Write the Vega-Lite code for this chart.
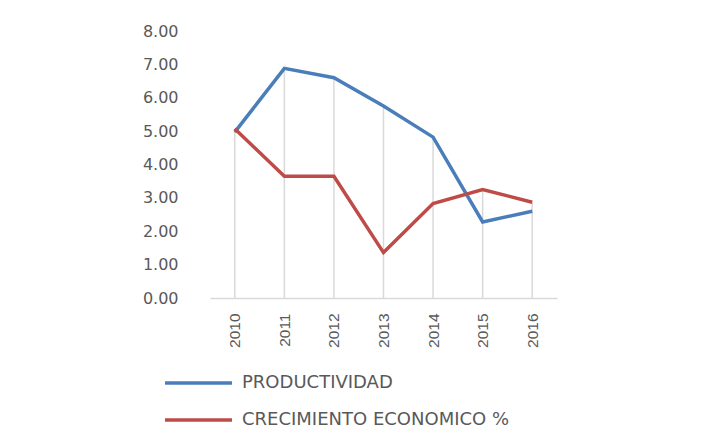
{
  "$schema": "https://vega.github.io/schema/vega-lite/v6.json",
  "autosize": {"type": "none"},
  "width": 347,
  "height": 267,
  "padding": {"left": 210, "top": 31, "right": 158, "bottom": 138},
  "background": "white",
  "config": {
    "view": {"stroke": null},
    "axis": {"domain": false, "grid": false, "ticks": false, "labelColor": "#595959", "labelFont": "DejaVu Sans", "title": null}
  },
  "data": {
    "values": [
      {"year": "2010", "series": "PRODUCTIVIDAD", "value": 4.97},
      {"year": "2011", "series": "PRODUCTIVIDAD", "value": 6.88},
      {"year": "2012", "series": "PRODUCTIVIDAD", "value": 6.6},
      {"year": "2013", "series": "PRODUCTIVIDAD", "value": 5.75},
      {"year": "2014", "series": "PRODUCTIVIDAD", "value": 4.82},
      {"year": "2015", "series": "PRODUCTIVIDAD", "value": 2.28},
      {"year": "2016", "series": "PRODUCTIVIDAD", "value": 2.6},
      {"year": "2010", "series": "CRECIMIENTO ECONOMICO %", "value": 5.07},
      {"year": "2011", "series": "CRECIMIENTO ECONOMICO %", "value": 3.65},
      {"year": "2012", "series": "CRECIMIENTO ECONOMICO %", "value": 3.65},
      {"year": "2013", "series": "CRECIMIENTO ECONOMICO %", "value": 1.36},
      {"year": "2014", "series": "CRECIMIENTO ECONOMICO %", "value": 2.83},
      {"year": "2015", "series": "CRECIMIENTO ECONOMICO %", "value": 3.25},
      {"year": "2016", "series": "CRECIMIENTO ECONOMICO %", "value": 2.87}
    ]
  },
  "layer": [
    {
      "mark": {"type": "rule", "color": "#d9d9d9", "strokeWidth": 1.5},
      "encoding": {
        "x": {"field": "year", "type": "ordinal", "scale": {"type": "point", "padding": 0.5},
          "axis": {"labelAngle": 270, "labelFontSize": 15.5, "labelFont": "Liberation Sans", "labelPadding": 15, "domain": true, "domainColor": "#d9d9d9", "domainWidth": 1.5}},
        "y": {"aggregate": "max", "field": "value", "type": "quantitative", "scale": {"domain": [0, 8], "nice": false},
          "axis": {"values": [0, 1, 2, 3, 4, 5, 6, 7, 8], "tickCount": 20, "format": ".2f", "labelFontSize": 16, "labelPadding": 32, "labelOverlap": false, "labelFlush": false}},
        "y2": {"datum": 0}
      }
    },
    {
      "mark": {"type": "line", "strokeWidth": 3.5},
      "encoding": {
        "x": {"field": "year", "type": "ordinal"},
        "y": {"field": "value", "type": "quantitative"},
        "color": {"field": "series", "type": "nominal",
          "scale": {"domain": ["PRODUCTIVIDAD", "CRECIMIENTO ECONOMICO %"], "range": ["#4a7ebb", "#be4b48"]},
          "legend": {"title": null, "orient": "none", "legendX": -47, "legendY": 343, "direction": "vertical",
            "symbolType": "stroke", "symbolSize": 4489, "symbolStrokeWidth": 3.5, "labelFontSize": 18, "labelFont": "DejaVu Sans",
            "labelColor": "#595959", "labelOffset": 8, "rowPadding": 19, "clipHeight": 18, "labelLimit": 500}},
        "order": {"field": "year"}
      }
    }
  ]
}
